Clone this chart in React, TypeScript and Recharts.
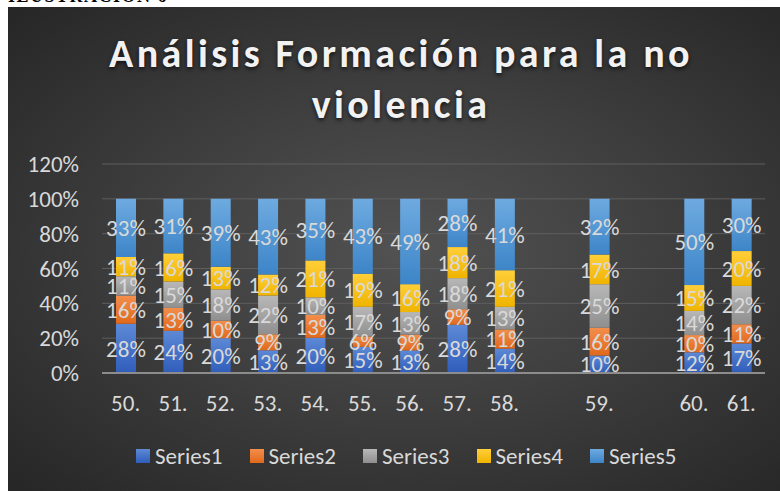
import React from 'react';
import { BarChart, Bar, XAxis, YAxis, CartesianGrid, LabelList } from 'recharts';

const categories = ['50.', '51.', '52.', '53.', '54.', '55.', '56.', '57.', '58.', '', '59.', '', '60.', '61.'];
const series1 = [28, 24, 20, 13, 20, 15, 13, 28, 14, null, 10, null, 12, 17];
const series2 = [16, 13, 10, 9, 13, 6, 9, 9, 11, null, 16, null, 10, 11];
const series3 = [11, 15, 18, 22, 10, 17, 13, 18, 13, null, 25, null, 14, 22];
const series4 = [11, 16, 13, 12, 21, 19, 16, 18, 21, null, 17, null, 15, 20];
const series5 = [33, 31, 39, 43, 35, 43, 49, 28, 41, null, 32, null, 50, 30];
const yTicks = [0, 0.2, 0.4, 0.6, 0.8, 1.0, 1.2];
const seriesNames = ['Series1', 'Series2', 'Series3', 'Series4', 'Series5'];

const seriesValues = [series1, series2, series3, series4, series5];
const data = categories.map((cat, i) => {
  const row: any = { cat };
  let total = 0;
  seriesNames.forEach((n, k) => {
    const v = seriesValues[k][i];
    row[n] = v;
    if (v != null) total += v;
  });
  row.total = total;
  return row;
});

const share = (n: string) => (entry: any) =>
  entry[n] == null || !entry.total ? null : entry[n] / entry.total;

const colors = ['#4472C4', '#ED7D31', '#A5A5A5', '#FFC000', '#5B9BD5'];
const gradTop = ['#5d89d6', '#f38e4c', '#b8b8b8', '#ffcf3a', '#6eaae0'];
const gradBot = ['#2f5dba', '#e0691c', '#8f8f8f', '#f0b400', '#3d85c8'];

const FONT = 'Carlito, Calibri, Lato, sans-serif';
const TXT = '#d9d9d9';

export default function App() {
  return (
    <div style={{ position: 'absolute', left: 0, top: 0, width: 780, height: 491, background: '#fff', overflow: 'hidden' }}>
      <div style={{ position: 'absolute', left: 8, top: -14, fontFamily: '"Liberation Serif", serif', fontWeight: 'bold', fontSize: 18, color: '#000', letterSpacing: 1.5 }}>
        ILUSTRACIÓN 6
      </div>
      <div
        style={{
          position: 'absolute',
          left: 8,
          top: 7,
          width: 772,
          height: 484,
          background: 'radial-gradient(ellipse at 52% 50%, #525252 0%, #3f3f3f 45%, #262626 100%)',
        }}
      >
        <div
          style={{
            position: 'absolute',
            left: 0,
            top: 21,
            width: 786,
            textAlign: 'center',
            fontFamily: FONT,
            fontWeight: 'bold',
            fontSize: 40,
            lineHeight: '51px',
            letterSpacing: 3.4,
            color: '#f2f2f2',
            textShadow: '0 2px 4px rgba(0,0,0,0.7)',
          }}
        >
          <div>Análisis Formación para la no</div>
          <div>violencia</div>
        </div>
        <BarChart
          width={772}
          height={484}
          data={data}
          barSize={20}
          margin={{ top: 157, right: 15, left: 24, bottom: 88 }}
          style={{ position: 'absolute', left: 0, top: 0 }}
        >
          <defs>
            {colors.map((c, k) => (
              <linearGradient key={k} id={'g' + k} x1="0" y1="0" x2="0" y2="1">
                <stop offset="0%" stopColor={gradTop[k]} />
                <stop offset="100%" stopColor={gradBot[k]} />
              </linearGradient>
            ))}
          </defs>
          <CartesianGrid vertical={false} stroke="#5e5e5e" strokeWidth={1} />
          <XAxis
            dataKey="cat"
            height={30}
            tickLine={false}
            tickSize={0}
            tickMargin={22}
            axisLine={{ stroke: '#8c8c8c', strokeWidth: 2 }}
            tick={{ fill: TXT, fontSize: 23, fontFamily: FONT }}
            interval={0}
          />
          <YAxis
            type="number"
            domain={[0, 1.2]}
            ticks={yTicks}
            width={70}
            axisLine={false}
            tickLine={false}
            tickSize={0}
            tickMargin={23}
            tick={{ fill: TXT, fontSize: 23, fontFamily: FONT }}
            tickFormatter={(v: number) => Math.round(v * 100) + '%'}
          />
          {seriesNames.map((n, k) => (
            <Bar key={n} name={n} dataKey={share(n)} stackId="a" fill={`url(#g${k})`} isAnimationActive={false}>
              <LabelList
                dataKey={n}
                position="center"
                formatter={(v: any) => (v == null ? '' : v + '%')}
                style={{ fill: TXT, fontSize: 23, fontFamily: FONT }}
              />
            </Bar>
          ))}
        </BarChart>
        <div
          style={{
            position: 'absolute',
            left: 128,
            top: 435,
            display: 'flex',
            fontFamily: FONT,
            fontSize: 23,
            color: TXT,
          }}
        >
          {seriesNames.map((n, k) => (
            <div key={n} style={{ display: 'flex', alignItems: 'center', width: 113.5 }}>
              <div style={{ width: 14, height: 14, background: `linear-gradient(${gradTop[k]}, ${gradBot[k]})`, marginRight: 5 }} />
              <span>{n}</span>
            </div>
          ))}
        </div>
      </div>
    </div>
  );
}
